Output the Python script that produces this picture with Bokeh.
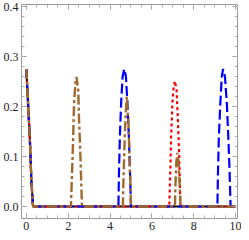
from bokeh.plotting import figure
from bokeh.models import Range1d, FixedTicker, LinearAxis, PrintfTickFormatter
from bokeh.embed import file_html
from bokeh.resources import INLINE

# ---- data ----
drop_x = [0.0, 0.075, 0.17, 0.24, 0.32]
drop_y = [0.275, 0.214, 0.134, 0.054, 0.0]

black_x = drop_x + [10.0]
black_y = drop_y + [0.0]

red_x = drop_x + [6.83, 6.88, 6.92, 6.98, 7.04, 7.10, 7.18, 7.24, 7.30, 7.34, 7.36, 10.0]
red_y = drop_y + [0.0, 0.073, 0.14, 0.207, 0.24, 0.251, 0.233, 0.173, 0.107, 0.04, 0.0, 0.0]

blue_x = drop_x + [4.40, 4.43, 4.47, 4.53, 4.60, 4.68, 4.76, 4.83, 4.90, 4.95, 5.0,
                   9.13, 9.16, 9.20, 9.27, 9.34, 9.40, 9.49, 9.58, 9.65, 9.71, 9.76, 10.0]
blue_y = drop_y + [0.0, 0.073, 0.14, 0.207, 0.26, 0.275, 0.26, 0.207, 0.14, 0.073, 0.0,
                   0.0, 0.073, 0.14, 0.207, 0.26, 0.275, 0.26, 0.207, 0.14, 0.073, 0.0, 0.0]

brown_x = drop_x + [2.13, 2.19, 2.24, 2.28, 2.36, 2.40, 2.48, 2.52, 2.58, 2.64, 2.66,
                    4.61, 4.65, 4.70, 4.74, 4.80, 4.88, 4.92, 4.97, 5.0,
                    7.10, 7.13, 7.17, 7.22, 7.27, 7.32, 7.37, 10.0]
brown_y = drop_y + [0.0, 0.073, 0.14, 0.207, 0.253, 0.259, 0.233, 0.173, 0.107, 0.027, 0.0,
                    0.0, 0.067, 0.133, 0.18, 0.22, 0.167, 0.113, 0.053, 0.0,
                    0.0, 0.05, 0.09, 0.107, 0.09, 0.05, 0.0, 0.0]

x_ticks = [0, 2, 4, 6, 8, 10]
x_minor = [v * 0.5 for v in range(0, 21)]
y_ticks = [0.0, 0.1, 0.2, 0.3, 0.4]
y_minor = [v * 0.02 for v in range(0, 21)]

p = figure(width=241, height=232, output_backend="svg", toolbar_location=None,
           x_range=Range1d(-0.23, 10.09), y_range=Range1d(-0.024, 0.404),
           min_border_left=2, min_border_right=4, min_border_top=4, min_border_bottom=2)
p.grid.visible = False
p.outline_line_color = "#9a9a9a"
p.outline_line_width = 1
p.background_fill_color = "white"
p.border_fill_color = "white"

def style_axis(ax, labels=True):
    ax.axis_line_color = None
    ax.major_tick_in = 5
    ax.major_tick_out = 0
    ax.minor_tick_in = 3
    ax.minor_tick_out = 0
    ax.major_tick_line_color = "#9a9a9a"
    ax.minor_tick_line_color = "#b0b0b0"
    ax.major_label_text_font = "Liberation Sans Narrow"
    ax.major_label_text_font_size = "12px"
    ax.major_label_text_color = "#222222"
    ax.major_label_standoff = 3

p.xaxis.ticker = FixedTicker(ticks=x_ticks, minor_ticks=x_minor)
p.yaxis.ticker = FixedTicker(ticks=y_ticks, minor_ticks=y_minor)
p.yaxis.formatter = PrintfTickFormatter(format="%.1f")
style_axis(p.xaxis[0])
style_axis(p.yaxis[0])

# mirrored tick marks on the top and right sides of the frame (no labels)
top_ax = LinearAxis(ticker=FixedTicker(ticks=x_ticks, minor_ticks=x_minor))
right_ax = LinearAxis(ticker=FixedTicker(ticks=y_ticks, minor_ticks=y_minor))
for ax in (top_ax, right_ax):
    style_axis(ax)
    ax.major_label_text_font_size = "1px"
    ax.major_label_standoff = 0
top_ax.major_label_overrides = {t: "" for t in x_ticks}
right_ax.major_label_overrides = {t: "" for t in y_ticks}
p.add_layout(top_ax, "above")
p.add_layout(right_ax, "right")

p.line(black_x, black_y, line_color="black", line_width=2)
p.line(red_x, red_y, line_color="#ff0000", line_width=2.2, line_dash="3 3")
p.line(blue_x, blue_y, line_color="#0000ff", line_width=2.2, line_dash="10 4")
p.line(brown_x, brown_y, line_color="#a0692e", line_width=2.4, line_dash="10 3 3 3")

open("out.html", "w").write(file_html(p, INLINE))
